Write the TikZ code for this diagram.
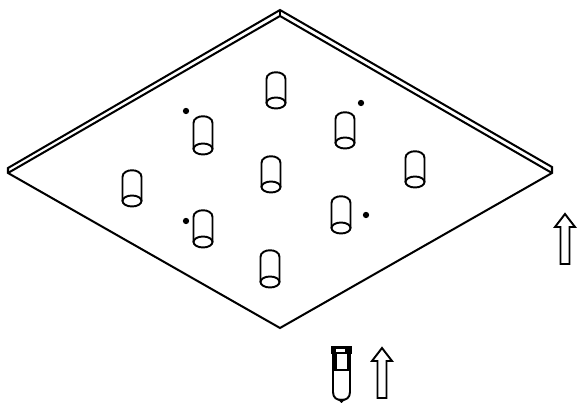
\documentclass[tikz,border=0pt]{standalone}
\usetikzlibrary{calc}

\begin{document}
\begin{tikzpicture}[
   x=0.02cm, y=-0.02cm,
   plate/.style={line width=1.15pt, line join=miter},
   peg/.style={line width=1.1pt},
   outline/.style={line width=1.1pt, fill=white, line join=miter},
   mark dot/.style={fill=black, circle, inner sep=0pt, minimum size=3.6pt}
]
\useasboundingbox (0,0) rectangle (579,405);

% --- plate corners, upper edge and lower edge of the rim
\coordinate (Top)    at (280,10);
\coordinate (TopIn)  at (280,16);
\coordinate (Left)   at (8,168);
\coordinate (LeftIn) at (8,173);
\coordinate (Right)  at (552,167);
\coordinate (RightIn) at (552,173);
\coordinate (Bottom) at (280,328);

\draw[plate] (Left) -- (Top) -- (Right) -- (RightIn) -- (Bottom) -- (LeftIn) -- cycle;
\draw[plate] (LeftIn) -- (TopIn) -- (RightIn);
\draw[plate] (Top) -- (TopIn);

% --- pegs: centre x, top y, bottom y
\foreach \px/\ptop/\pbot in {276/72/109, 203/116/155, 345/112/149, 415/151/188,
                             132/170/207, 271/156/193, 341/196/234, 203/210/248, 270/250/288} {
   \draw[peg] (\px-9.5,\pbot-6) -- (\px-9.5,\ptop+7)
      .. controls (\px-9.5,\ptop-2) and (\px+9.5,\ptop-2) .. (\px+9.5,\ptop+7)
      -- (\px+9.5,\pbot-6);
   \draw[peg] (\px,\pbot-6) ellipse [x radius=9.5, y radius=5.5];
}

% --- small marks beside the pegs
\node[mark dot] (dotA) at (186,111) {};
\node[mark dot] (dotB) at (361,103) {};
\node[mark dot] (dotC) at (186,221) {};
\node[mark dot] (dotD) at (366,215) {};

% --- hollow arrows: centre x, tip y
\foreach \ax/\ay in {565/214, 382/348} {
   \draw[outline] (\ax,\ay) -- (\ax+10,\ay+13) -- (\ax+4.5,\ay+13) -- (\ax+4.5,\ay+50)
      -- (\ax-4.5,\ay+50) -- (\ax-4.5,\ay+13) -- (\ax-10,\ay+13) -- cycle;
}

% --- tool below the plate
\fill (331,346) rectangle (352,354);
\fill (332,353) rectangle (336.5,371);
\fill (346.5,353) rectangle (351,371);
\draw[line width=1.1pt] (333,370) -- (350,370);
\fill[white] (336,349) rectangle (345,352.5);
\draw[line width=1.1pt] (333,370) -- (333,392)
   .. controls (333,398) and (337,400) .. (341.5,400)
   .. controls (346,400) and (350,398) .. (350,392) -- (350,370);
\fill (337,399) -- (346,399) -- (341.5,403) -- cycle;

\end{tikzpicture}
\end{document}
